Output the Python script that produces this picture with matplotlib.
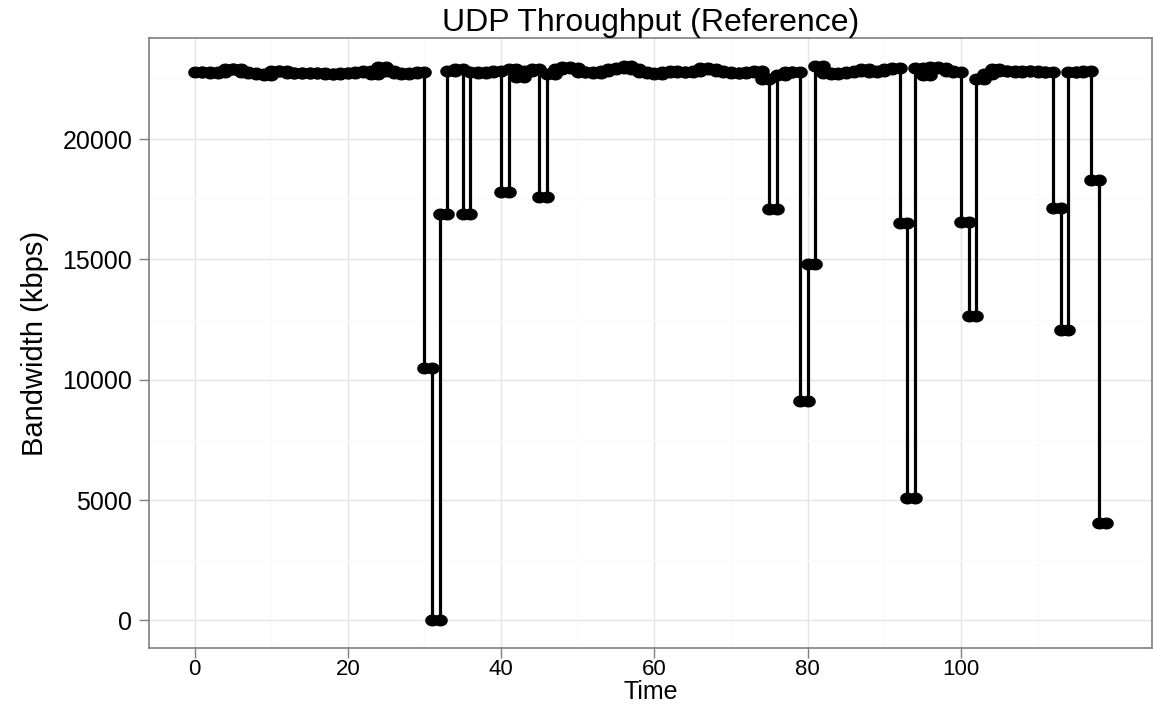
import matplotlib
matplotlib.use("Agg")
import matplotlib.pyplot as plt
from matplotlib.path import Path
from matplotlib.ticker import MultipleLocator, FixedLocator
import numpy as np

# iperf style intervals: each value covers [start, start + 1]
interval_start = np.arange(119)
bandwidth = [
    22800, 22800, 22750, 22800, 22900, 22900, 22800, 22750, 22700, 22650,   # 0-9
    22850, 22850, 22750, 22750, 22750, 22750, 22750, 22700, 22700, 22750,   # 10-19
    22750, 22800, 22850, 22700, 23000, 22850, 22750, 22700, 22750, 22800,   # 20-29
    10500, 0, 16900, 22850, 22900, 16900, 22800, 22750, 22800, 22850,       # 30-39
    17800, 22900, 22600, 22850, 22900, 17600, 22700, 22900, 23000, 22950,   # 40-49
    22800, 22800, 22750, 22850, 22900, 22950, 23050, 22900, 22800, 22750,   # 50-59
    22700, 22800, 22850, 22800, 22800, 22850, 22950, 22900, 22850, 22800,   # 60-69
    22750, 22750, 22800, 22850, 22500, 17100, 22650, 22800, 22800, 9100,    # 70-79
    14800, 23050, 22750, 22700, 22750, 22800, 22850, 22900, 22800, 22850,   # 80-89
    22900, 22950, 16500, 5100, 22950, 22650, 23000, 22950, 22850, 22800,    # 90-99
    16550, 12650, 22500, 22700, 22900, 22850, 22850, 22800, 22850, 22850,   # 100-109
    22800, 22800, 17150, 12050, 22800, 22800, 22850, 18300, 4050,           # 110-118
]

title = "UDP Throughput (Reference)"
x_label = "Time"
y_label = "Bandwidth (kbps)"

# two points per interval (start and end), joined in order -> step look
xs = np.column_stack([interval_start, interval_start + 1]).ravel()
ys = np.repeat(bandwidth, 2)

# slightly wide oval marker like the reference
theta = np.linspace(0, 2 * np.pi, 60)
oval = Path(np.column_stack([1.25 * np.cos(theta), np.sin(theta)]))

plt.rcParams['font.family'] = ['Liberation Sans', 'DejaVu Sans']

fig = plt.figure(figsize=(11.53, 7.09), dpi=100)
ax = fig.add_axes([0.1292, 0.0860, 0.8700, 0.8604])

ax.plot(xs, ys, color="black", linewidth=2.3, marker=oval, markersize=9.5,
        markerfacecolor="black", markeredgecolor="black", solid_joinstyle="miter")

# ggplot-like expansion of 5%
xmin, xmax = xs.min(), xs.max()
ymin, ymax = min(ys), max(ys)
ax.set_xlim(xmin - 0.05 * (xmax - xmin), xmax + 0.05 * (xmax - xmin))
ax.set_ylim(ymin - 0.05 * (ymax - ymin), ymax + 0.05 * (ymax - ymin))

ax.xaxis.set_major_locator(FixedLocator([0, 20, 40, 60, 80, 100]))
ax.xaxis.set_minor_locator(FixedLocator([10, 30, 50, 70, 90, 110]))
ax.yaxis.set_major_locator(MultipleLocator(5000))
ax.yaxis.set_minor_locator(FixedLocator([2500, 7500, 12500, 17500, 22500]))

ax.grid(which="major", color="#e5e5e5", linewidth=1.0)
ax.grid(which="minor", color="#fafafa", linewidth=1.0)
ax.set_axisbelow(True)

for s in ax.spines.values():
    s.set_color("#7f7f7f")
    s.set_linewidth(1.2)

ax.tick_params(which="major", direction="out", length=7, width=1.0, color="#7f7f7f",
               labelcolor="black", pad=5)
ax.tick_params(which="minor", length=0)
ax.tick_params(axis="y", labelsize=18)
ax.tick_params(axis="x", labelsize=16, pad=1)

ax.set_title(title, fontsize=23, pad=1)
ax.set_xlabel(x_label, fontsize=18, labelpad=0)
ax.set_ylabel(y_label, fontsize=21, labelpad=10)

fig.savefig("out.png", dpi=100)
